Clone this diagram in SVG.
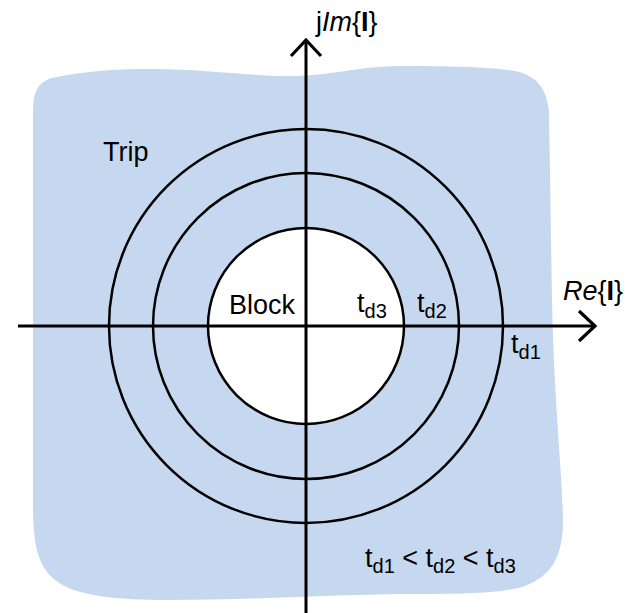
<svg xmlns="http://www.w3.org/2000/svg" width="634" height="613" viewBox="0 0 634 613">
<style>
.txt{font-family:"Liberation Sans",Arial,sans-serif;font-size:27px;fill:#000}
.sub{font-size:20px}
.ring{fill:none;stroke:#000;stroke-width:2.5}
.axis{fill:none;stroke:#000;stroke-width:3}
</style>
<defs>
<marker id="arr" markerUnits="userSpaceOnUse" markerWidth="40" markerHeight="40" refX="20" refY="20" orient="auto" overflow="visible">
<path d="M4,5 L20,20 L4,35" fill="none" stroke="#000" stroke-width="3.2"/>
</marker>
</defs>
<g id="trip-region">
<path d="M33,112 C33,92 38,82 52,78 C90,70 120,69 153,69 C205,69 245,76 290,76 C330,76 360,66 402,66 C450,66 490,67 515,71 C538,76 547,90 549,112 L552,300 C554,400 562,470 563,520 C563,555 553,575 525,586 C500,594 460,594 420,594 C340,594 250,600 170,600 C115,600 75,596 55,580 C38,566 33,545 33,505 Z" fill="#c6d8ef"/>
</g>
<g id="block-region">
<circle cx="306" cy="326" r="98" fill="#ffffff"/>
</g>
<g id="rings">
<circle id="ring-td3" class="ring" cx="306" cy="326" r="98"/>
<circle id="ring-td2" class="ring" cx="306" cy="326" r="153"/>
<circle id="ring-td1" class="ring" cx="306" cy="326" r="197"/>
</g>
<g id="connectors">
<line class="axis" x1="306" y1="613" x2="306" y2="40" marker-end="url(#arr)"/>
<line class="axis" x1="18" y1="326" x2="595" y2="326" marker-end="url(#arr)"/>
</g>
<g id="labels">
<text class="txt" x="316" y="31">j<tspan font-style="italic">Im</tspan>{<tspan font-weight="bold">I</tspan>}</text>
<text class="txt" x="563" y="300"><tspan font-style="italic">Re</tspan>{<tspan font-weight="bold">I</tspan>}</text>
<text class="txt" x="103" y="161">Trip</text>
<text class="txt" x="229" y="314">Block</text>
<text class="txt" x="357" y="312">t<tspan class="sub" dy="6">d3</tspan></text>
<text class="txt" x="417" y="312">t<tspan class="sub" dy="6">d2</tspan></text>
<text class="txt" x="511" y="353">t<tspan class="sub" dy="6">d1</tspan></text>
<text class="txt" x="365" y="567">t<tspan class="sub" dy="6">d1</tspan><tspan dy="-6"> &lt; t</tspan><tspan class="sub" dy="6">d2</tspan><tspan dy="-6"> &lt; t</tspan><tspan class="sub" dy="6">d3</tspan></text>
</g>
</svg>
